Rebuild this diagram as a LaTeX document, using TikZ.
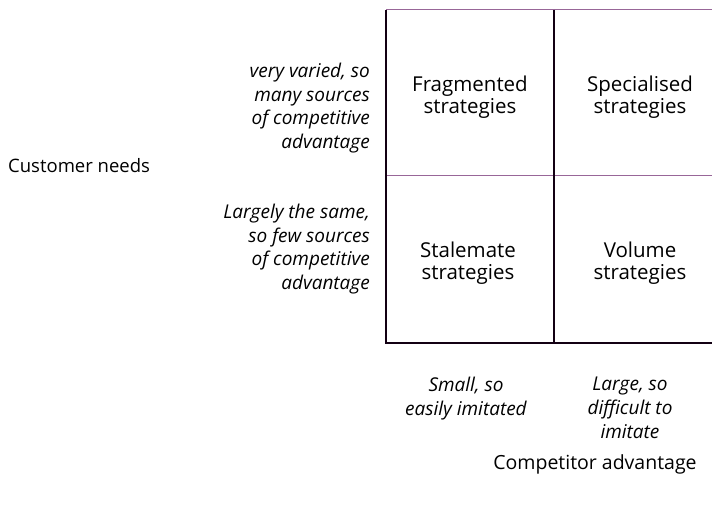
\documentclass[tikz,border=0pt]{standalone}
\usepackage{fontspec}
\setmainfont{Open Sans}
\begin{document}
\begin{tikzpicture}[x=1pt,y=-1pt,
  grid/.style={draw=black!85!violet, line width=1.3pt},
  faint/.style={draw=black!35!violet!60, line width=1pt},
  cell/.style={align=center, font=\fontsize{20.5}{22.5}\selectfont, inner sep=0pt},
  side/.style={align=right, anchor=east, font=\fontsize{19}{23.5}\selectfont\itshape, inner sep=0pt},
  bottom/.style={align=center, anchor=north, font=\fontsize{19}{24}\selectfont\itshape, inner sep=0pt},
  axis/.style={font=\fontsize{18.5}{20}\selectfont, inner sep=0pt}]
\useasboundingbox (0,0) rectangle (712,508);
\coordinate (tl) at (386,10);
\coordinate (tm) at (554,10);
\coordinate (tr) at (712,10);
\coordinate (ml) at (386,175);
\coordinate (mr) at (712,175);
\coordinate (bl) at (386,343);
\coordinate (bm) at (554,343);
\coordinate (br) at (712,343);
\draw[faint] (tl) -- (tr);
\draw[faint] (ml) -- (mr);
\draw[grid] (tl) -- (bl) -- (br);
\draw[grid] (tm) -- (bm);
\node[cell] (frag) at (470,97) {Fragmented\\strategies};
\node[cell] (spec) at (640,97) {Specialised\\strategies};
\node[cell] (stal) at (468,263) {Stalemate\\strategies};
\node[cell] (vol) at (640,263) {Volume\\strategies};
\node[side] (varied) at (370,108) {very varied, so\\many sources\\of competitive\\advantage};
\node[side] (same) at (370,249) {Largely the same,\\so few sources\\of competitive\\advantage};
\node[axis, anchor=west] (cust) at (8,166) {Customer needs};
\node[bottom] (small) at (466,377) {Small, so\\easily imitated};
\node[bottom] (large) at (630,377) {Large, so\\difficult to\\imitate};
\node[axis, font=\fontsize{19.5}{20}\selectfont] (comp) at (595,464) {Competitor advantage};
\end{tikzpicture}
\end{document}
